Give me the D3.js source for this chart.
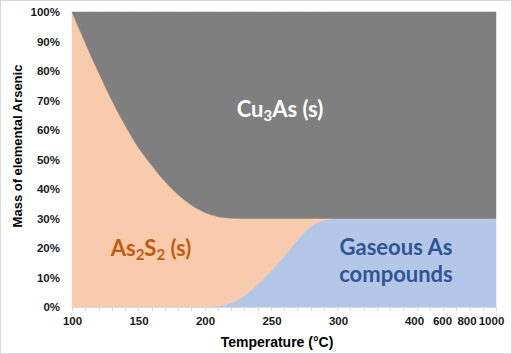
<!DOCTYPE html>
<html>
<head>
<meta charset="utf-8">
<script src="https://cdn.jsdelivr.net/npm/d3@7"></script>
<style>
  body { margin: 0; background: #fff; }
  svg { display: block; font-family: "Liberation Sans", Arial, sans-serif; }
</style>
</head>
<body>
<div id="chart"></div>
<script>
// Data
const temps = [100, 110, 120, 130, 140, 150, 160, 170, 180, 190, 200, 210, 220, 230, 240, 250, 260, 270, 280, 290, 300, 400, 600, 800, 1000];
const gaseous = [0, 0, 0, 0, 0, 0, 0, 0, 0, 0, 0, 0.4, 1.5, 4, 8, 12.5, 17.5, 23, 27.5, 29.5, 30, 30, 30, 30, 30];
const as2s2 = [100, 89.5, 79.5, 70, 61.5, 54, 48, 42.5, 38, 34.5, 32, 30.2, 28.6, 26, 22, 17.5, 12.5, 7, 2.5, 0.5, 0, 0, 0, 0, 0];
const cu3as = [0, 10.5, 20.5, 30, 38.5, 46, 52, 57.5, 62, 65.5, 68, 69.4, 69.9, 70, 70, 70, 70, 70, 70, 70, 70, 70, 70, 70, 70];
const xLabels = [100, 150, 200, 250, 300, 400, 600, 800, 1000];
const yTicks = [0, 10, 20, 30, 40, 50, 60, 70, 80, 90, 100];

const W = 512, H = 354;
const plotLeft = 72, plotRight = 496, plotTop = 12, plotBottom = 307;

const rows = temps.map((t, i) => ({ t: t, gas: gaseous[i], as2s2: as2s2[i], cu3as: cu3as[i] }));

const svg = d3.select("#chart").append("svg")
  .attr("width", W)
  .attr("height", H);

svg.append("rect")
  .attr("x", 0.5).attr("y", 0.5)
  .attr("width", W - 1).attr("height", H - 1)
  .attr("fill", "#fff")
  .attr("stroke", "#d9d9d9");

// x axis is compressed above 300 °C, like the original
const x = d3.scaleLinear()
  .domain([100, 300, 400, 600, 800, 1000])
  .range([plotLeft, 338, 414, 442, 468, plotRight]);
const y = d3.scaleLinear().domain([0, 100]).range([plotBottom, plotTop]);

const stack = d3.stack().keys(["gas", "as2s2", "cu3as"]);
const series = stack(rows);
const colors = { gas: "#b4c7e7", as2s2: "#f8cbad", cu3as: "#7f7f7f" };

const area = d3.area()
  .curve(d3.curveMonotoneX)
  .x(d => x(d.data.t))
  .y0(d => y(d[0]))
  .y1(d => y(d[1]));

svg.append("g").selectAll("path")
  .data(series)
  .join("path")
  .attr("d", area)
  .attr("fill", d => colors[d.key])
  .attr("stroke", d => colors[d.key])
  .attr("stroke-width", 0.5);

// bottom axis line and minor tick marks
const tickIdx = d3.scaleLinear().domain([0, 32]).range([plotLeft, plotRight]);
const axisG = svg.append("g");
axisG.append("line")
  .attr("x1", plotLeft).attr("x2", plotRight)
  .attr("y1", plotBottom + 0.5).attr("y2", plotBottom + 0.5)
  .attr("stroke", "#d9d9d9");
axisG.selectAll("line.tk")
  .data(d3.range(33))
  .join("line")
  .attr("class", "tk")
  .attr("x1", d => Math.round(tickIdx(d)) + 0.5)
  .attr("x2", d => Math.round(tickIdx(d)) + 0.5)
  .attr("y1", plotBottom)
  .attr("y2", plotBottom + 4)
  .attr("stroke", "#d9d9d9");

const xAxis = d3.axisBottom(x).tickValues(xLabels).tickSize(0).tickPadding(10).tickFormat(d => d);
const gx = svg.append("g")
  .attr("transform", `translate(0,${plotBottom})`)
  .call(xAxis);
gx.select(".domain").remove();
gx.selectAll("text")
  .attr("font-size", 11.5)
  .attr("font-weight", "bold")
  .attr("fill", "#1a1a1a")
  .attr("font-family", "Liberation Sans, Arial, sans-serif")
  .attr("dx", d => d === 1000 ? -5 : (d === 800 ? -1.5 : 0));

const yAxis = d3.axisLeft(y).tickValues(yTicks).tickSize(0).tickPadding(12).tickFormat(d => d + "%");
const gy = svg.append("g")
  .attr("transform", `translate(${plotLeft},0)`)
  .call(yAxis);
gy.select(".domain").remove();
gy.selectAll("text")
  .attr("font-size", 11.5)
  .attr("font-weight", "bold")
  .attr("fill", "#1a1a1a")
  .attr("font-family", "Liberation Sans, Arial, sans-serif");

// axis titles
svg.append("text")
  .attr("x", 277)
  .attr("y", 347)
  .attr("text-anchor", "middle")
  .attr("font-size", 14)
  .attr("font-weight", "bold")
  .attr("fill", "#000")
  .text("Temperature (°C)");

svg.append("text")
  .attr("transform", "translate(22,146) rotate(-90)")
  .attr("text-anchor", "middle")
  .attr("font-size", 13)
  .attr("font-weight", "bold")
  .attr("fill", "#000")
  .text("Mass of elemental Arsenic");

// region labels
const labelFont = "Lato, 'Open Sans', sans-serif";

const cu = svg.append("text")
  .attr("x", 280).attr("y", 117)
  .attr("text-anchor", "middle")
  .attr("font-family", labelFont)
  .attr("font-size", 22)
  .attr("font-weight", "bold")
  .attr("fill", "#fff");
cu.append("tspan").text("Cu");
cu.append("tspan").attr("font-size", 15).attr("dy", 4).text("3");
cu.append("tspan").attr("dy", -4).text("As (s)");

const as = svg.append("text")
  .attr("x", 151).attr("y", 256)
  .attr("text-anchor", "middle")
  .attr("font-family", labelFont)
  .attr("font-size", 22)
  .attr("font-weight", "bold")
  .attr("fill", "#c55a11");
as.append("tspan").text("As");
as.append("tspan").attr("font-size", 15).attr("dy", 4).text("2");
as.append("tspan").attr("dy", -4).text("S");
as.append("tspan").attr("font-size", 15).attr("dy", 4).text("2");
as.append("tspan").attr("dy", -4).text(" (s)");

const gasLabel = svg.append("text")
  .attr("text-anchor", "middle")
  .attr("font-family", labelFont)
  .attr("font-size", 22)
  .attr("font-weight", "bold")
  .attr("fill", "#2f5597");
gasLabel.append("tspan").attr("x", 396).attr("y", 255).text("Gaseous As");
gasLabel.append("tspan").attr("x", 396).attr("y", 282).text("compounds");
</script>
</body>
</html>
